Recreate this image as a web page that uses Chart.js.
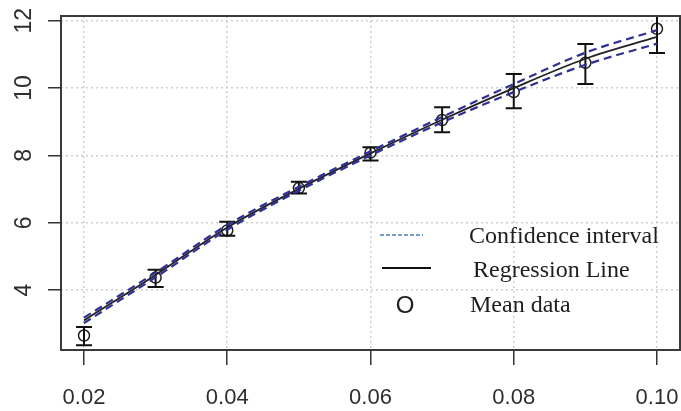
<!DOCTYPE html>
<html>
<head>
<meta charset="utf-8">
<script src="https://cdn.jsdelivr.net/npm/chart.js@4.4.1/dist/chart.umd.min.js"></script>
<style>
  body { margin: 0; background: #fff; }
  canvas { display: block; }
</style>
</head>
<body>
<canvas id="regChart" width="681" height="411"></canvas>
<script>
// values
const xValues  = [0.02, 0.03, 0.04, 0.05, 0.06, 0.07, 0.08, 0.09, 0.10];
const meanData = [2.65, 4.37, 5.77, 7.03, 8.08, 9.05, 9.88, 10.75, 11.76];
const errLow   = [2.36, 4.09, 5.61, 6.87, 7.85, 8.69, 9.40, 10.12, 11.04];
const errHigh  = [2.90, 4.60, 6.03, 7.22, 8.24, 9.43, 10.42, 11.31, 12.50];
const regLine  = [3.10, 4.45, 5.86, 7.01, 8.06, 9.06, 10.00, 10.87, 11.52];
const ciUpper  = [3.18, 4.52, 5.93, 7.07, 8.12, 9.14, 10.12, 11.05, 11.72];
const ciLower  = [3.02, 4.38, 5.79, 6.95, 8.00, 8.98, 9.88, 10.69, 11.32];
const xTicks   = [0.02, 0.04, 0.06, 0.08, 0.10];
const xLabels  = ['0.02', '0.04', '0.06', '0.08', '0.10'];
const yTicks   = [4, 6, 8, 10, 12];

const capHalf = 0.00112;

const toPts = vals => xValues.map((x, i) => ({ x: x, y: vals[i] }));

const whiskers = xValues.flatMap((x, i) => [
    { x: x, y: errLow[i] }, { x: x, y: errHigh[i] }, { x: x, y: null }
]);
const caps = xValues.flatMap((x, i) => [
    { x: x - capHalf, y: errHigh[i] }, { x: x + capHalf, y: errHigh[i] }, { x: x, y: null },
    { x: x - capHalf, y: errLow[i] }, { x: x + capHalf, y: errLow[i] }, { x: x, y: null }
]);

// frame, tick labels and the in-plot legend
const extras = {
    id: 'extras',
    afterDraw(chart) {
        const ctx = chart.ctx;
        const a = chart.chartArea;
        const xs = chart.scales.x;
        const ys = chart.scales.y;
        ctx.save();
        ctx.strokeStyle = '#3a3a3a';
        ctx.lineWidth = 2;
        ctx.strokeRect(a.left, a.top, a.right - a.left, a.bottom - a.top);

        ctx.fillStyle = '#2e2e2e';
        ctx.font = '22px "Liberation Sans", Arial, sans-serif';
        ctx.textAlign = 'center';
        ctx.textBaseline = 'middle';
        xTicks.forEach((v, i) => {
            ctx.fillText(xLabels[i], xs.getPixelForValue(v), 398);
        });
        ctx.font = '23px "Liberation Sans", Arial, sans-serif';
        yTicks.forEach(v => {
            ctx.save();
            ctx.translate(25, ys.getPixelForValue(v));
            ctx.rotate(-Math.PI / 2);
            ctx.fillText(String(v), 0, 0);
            ctx.restore();
        });

        // legend
        ctx.lineWidth = 1.5;
        ctx.strokeStyle = '#4a7ebb';
        ctx.setLineDash([4, 2]);
        ctx.beginPath(); ctx.moveTo(380, 235); ctx.lineTo(423, 235); ctx.stroke();
        ctx.setLineDash([]);
        ctx.lineWidth = 2;
        ctx.strokeStyle = '#111';
        ctx.beginPath(); ctx.moveTo(382, 268); ctx.lineTo(431, 268); ctx.stroke();

        ctx.fillStyle = '#1e1e1e';
        ctx.textAlign = 'center';
        ctx.textBaseline = 'alphabetic';
        ctx.font = '24px "Liberation Sans", Arial, sans-serif';
        ctx.fillText('O', 405, 313);
        ctx.textAlign = 'left';
        ctx.font = '24px "Liberation Serif", "Times New Roman", serif';
        ctx.fillText('Confidence interval', 469, 243);
        ctx.fillText('Regression Line', 473, 277);
        ctx.fillText('Mean data', 470, 312);
        ctx.restore();
    }
};

const ctx = document.getElementById('regChart').getContext('2d');
new Chart(ctx, {
    type: 'scatter',
    data: {
        datasets: [
            {
                label: 'Confidence interval (upper)',
                data: toPts(ciUpper),
                showLine: true,
                borderColor: '#2f2f95',
                borderWidth: 2.2,
                borderDash: [8, 5],
                pointRadius: 0,
                cubicInterpolationMode: 'monotone'
            },
            {
                label: 'Confidence interval (lower)',
                data: toPts(ciLower),
                showLine: true,
                borderColor: '#2f2f95',
                borderWidth: 2.2,
                borderDash: [8, 5],
                pointRadius: 0,
                cubicInterpolationMode: 'monotone'
            },
            {
                label: 'Regression Line',
                data: toPts(regLine),
                showLine: true,
                borderColor: '#222',
                borderWidth: 1.8,
                pointRadius: 0,
                cubicInterpolationMode: 'monotone'
            },
            {
                label: 'Error bars',
                data: whiskers,
                showLine: true,
                spanGaps: false,
                borderColor: '#111',
                borderWidth: 2,
                pointRadius: 0
            },
            {
                label: 'Error caps',
                data: caps,
                showLine: true,
                spanGaps: false,
                borderColor: '#111',
                borderWidth: 2,
                pointRadius: 0
            },
            {
                label: 'Mean data',
                data: toPts(meanData),
                showLine: false,
                pointStyle: 'circle',
                pointRadius: 5.5,
                borderColor: '#1e1e1e',
                borderWidth: 1.5,
                backgroundColor: 'rgba(0,0,0,0)'
            }
        ]
    },
    options: {
        responsive: false,
        animation: false,
        layout: { autoPadding: false, padding: { top: 16, right: 1, left: 0, bottom: 0 } },
        plugins: {
            legend: { display: false },
            tooltip: { enabled: false }
        },
        scales: {
            x: {
                type: 'linear',
                min: 0.01679,
                max: 0.10321,
                afterBuildTicks: scale => { scale.ticks = xTicks.map(v => ({ value: v })); },
                afterFit: scale => { scale.height = 61; },
                grid: {
                    color: '#cfcfcf',
                    lineWidth: 1.5,
                    tickLength: 15,
                    tickColor: '#333',
                    tickWidth: 1.5,
                    tickBorderDash: []
                },
                border: { display: false, dash: [2, 3] },
                ticks: { display: false }
            },
            y: {
                type: 'linear',
                min: 2.22,
                max: 12.14,
                afterBuildTicks: scale => { scale.ticks = yTicks.map(v => ({ value: v })); },
                afterFit: scale => { scale.width = 61; },
                grid: {
                    color: '#cfcfcf',
                    lineWidth: 1.5,
                    tickLength: 13,
                    tickColor: '#333',
                    tickWidth: 1.5,
                    tickBorderDash: []
                },
                border: { display: false, dash: [2, 3] },
                ticks: { display: false }
            }
        }
    },
    plugins: [extras]
});
</script>
</body>
</html>
